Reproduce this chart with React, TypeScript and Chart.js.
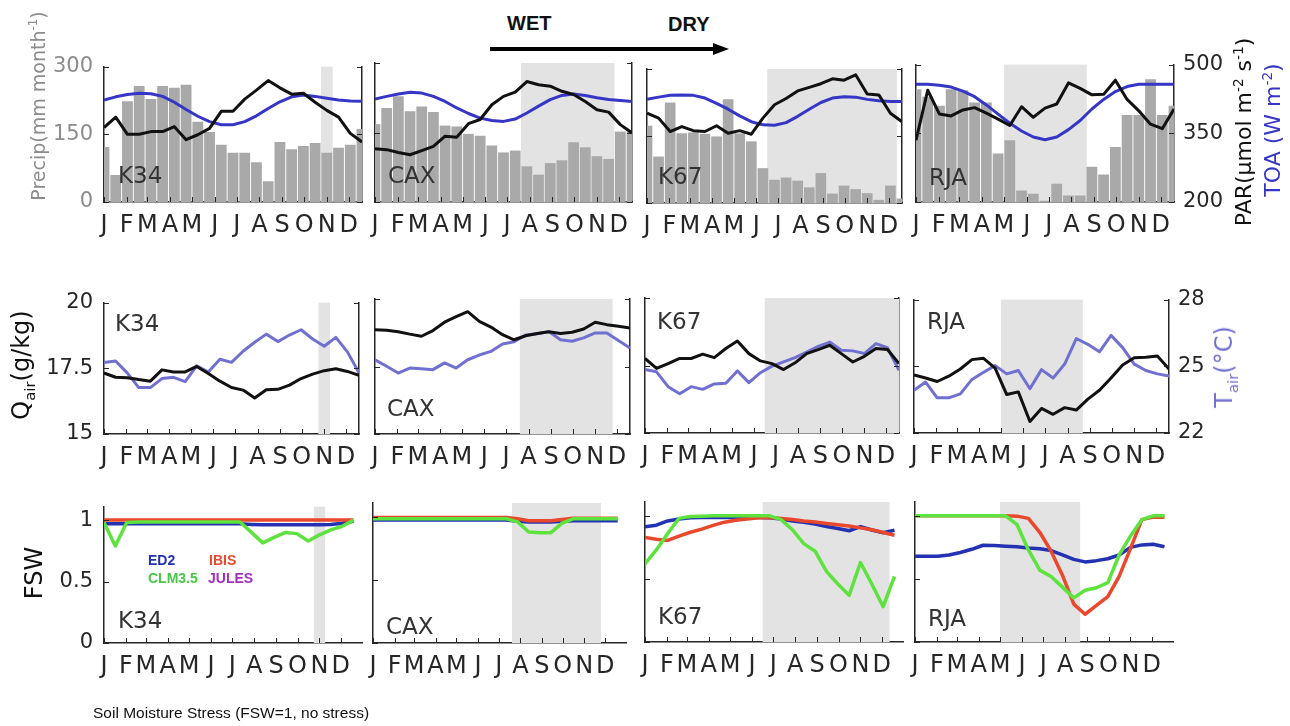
import React, { useEffect, useRef } from 'react';
import { Chart, registerables } from 'chart.js';

Chart.register(...registerables);

// ---------- categories ----------
const DOY = [1, 17, 33, 49, 65, 81, 97, 113, 129, 145, 161, 177, 193, 209, 225, 241, 257, 273, 289, 305, 321, 337, 353];
const MONTH_DOY = [1, 32, 60, 91, 121, 152, 182, 213, 244, 274, 305, 335];
const MONTH_LABELS = ['J', 'F', 'M', 'A', 'M', 'J', 'J', 'A', 'S', 'O', 'N', 'D'];
const SITES = ['K34', 'CAX', 'K67', 'RJA'];

// ---------- dry season (day of year) ----------
const DRY_START = [297, 201, 167, 121];
const DRY_END = [313, 329, 346, 234];
const DRY_END_ROW2 = [313, 329, 353, 234];

// ---------- row 1: precipitation (mm/month), PAR, TOA ----------
const PRECIP_K34 = [122, 60, 223, 257, 228, 257, 253, 260, 178, 155, 127, 109, 109, 88, 46, 133, 117, 124, 131, 109, 120, 127, 162];
const PRECIP_CAX = [168, 203, 228, 196, 206, 194, 165, 163, 147, 143, 122, 107, 111, 77, 59, 84, 90, 129, 118, 99, 93, 152, 152];
const PRECIP_K67 = [173, 104, 225, 156, 158, 155, 149, 232, 156, 138, 78, 52, 57, 50, 35, 67, 21, 39, 31, 22, 7, 39, 10];
const PRECIP_RJA = [246, 230, 210, 246, 244, 217, 217, 106, 135, 25, 18, 3, 40, 14, 14, 77, 60, 120, 190, 190, 268, 190, 210];

const PAR_K34 = [365, 388, 350, 350, 356, 356, 367, 338, 349, 363, 401, 401, 428, 448, 469, 453, 439, 441, 421, 403, 388, 352, 333];
const PAR_CAX = [315, 313, 307, 302, 311, 320, 342, 340, 369, 378, 410, 428, 437, 460, 453, 450, 439, 432, 417, 399, 394, 367, 349];
const PAR_K67 = [401, 390, 360, 371, 362, 360, 373, 356, 362, 354, 390, 420, 434, 451, 459, 467, 478, 475, 487, 444, 442, 401, 382];
const PAR_RJA = [335, 444, 392, 388, 401, 406, 394, 381, 367, 408, 385, 405, 414, 460, 448, 434, 435, 466, 424, 399, 370, 360, 403];

const TOA_K34 = [426, 433, 438, 441, 440, 434, 421, 405, 390, 378, 371, 371, 378, 391, 407, 422, 433, 437, 434, 430, 426, 424, 423];
const TOA_CAX = [422, 428, 433, 437, 435, 428, 417, 403, 391, 381, 376, 374, 379, 392, 407, 421, 430, 433, 430, 425, 421, 419, 417];
const TOA_K67 = [432, 437, 441, 442, 441, 435, 423, 410, 395, 382, 375, 374, 380, 394, 410, 425, 435, 438, 437, 432, 429, 427, 427];
const TOA_RJA = [457, 457, 455, 451, 442, 430, 412, 392, 372, 355, 342, 336, 342, 358, 378, 403, 424, 441, 452, 457, 457, 457, 457];

// ---------- row 2: Qair (g/kg), Tair (C) ----------
const QAIR_K34 = [17.32, 17.16, 17.14, 17.07, 17.01, 17.44, 17.36, 17.36, 17.57, 17.3, 17.01, 16.77, 16.67, 16.37, 16.68, 16.7, 16.86, 17.11, 17.28, 17.41, 17.48, 17.38, 17.23];
const QAIR_CAX = [18.86, 18.84, 18.79, 18.7, 18.62, 18.83, 19.14, 19.35, 19.53, 19.17, 18.96, 18.68, 18.49, 18.64, 18.72, 18.79, 18.72, 18.77, 18.89, 19.14, 19.05, 18.99, 18.93];
const QAIR_K67 = [17.76, 17.39, 17.57, 17.76, 17.76, 17.92, 17.79, 18.13, 18.41, 17.94, 17.67, 17.57, 17.35, 17.6, 17.94, 18.09, 18.25, 17.94, 17.63, 17.84, 18.13, 18.09, 17.57];
const QAIR_RJA = [17.18, 17.06, 16.93, 17.13, 17.4, 17.75, 17.8, 17.43, 16.44, 16.54, 15.43, 15.92, 15.7, 15.95, 15.86, 16.27, 16.6, 17.06, 17.55, 17.82, 17.84, 17.89, 17.4];

const TAIR_K34 = [25.27, 25.33, 24.79, 24.12, 24.12, 24.53, 24.59, 24.39, 25.11, 24.83, 25.41, 25.27, 25.78, 26.19, 26.56, 26.22, 26.52, 26.76, 26.34, 26.01, 26.41, 25.75, 24.79];
const TAIR_CAX = [25.3, 25.01, 24.71, 24.93, 24.9, 24.86, 25.16, 24.93, 25.3, 25.51, 25.67, 26.0, 26.1, 26.4, 26.46, 26.55, 26.19, 26.12, 26.27, 26.49, 26.49, 26.16, 25.82];
const TAIR_K67 = [24.82, 24.72, 24.06, 23.74, 24.06, 23.94, 24.18, 24.21, 24.76, 24.24, 24.68, 24.97, 25.16, 25.35, 25.6, 25.85, 26.04, 25.68, 25.65, 25.53, 25.97, 25.79, 24.79];
const TAIR_RJA = [23.92, 24.29, 23.58, 23.58, 23.76, 24.41, 24.73, 25.03, 24.66, 24.81, 23.99, 24.85, 24.47, 25.1, 26.25, 25.99, 25.65, 26.39, 25.84, 25.1, 24.81, 24.66, 24.56];

// ---------- row 3: soil moisture stress factor ----------
const ED2_K34 = [0.97, 0.97, 0.97, 0.97, 0.97, 0.97, 0.97, 0.97, 0.97, 0.97, 0.97, 0.97, 0.97, 0.965, 0.962, 0.962, 0.962, 0.962, 0.962, 0.962, 0.965, 0.975, 0.99];
const IBIS_K34 = [1.0, 1.0, 1.0, 1.0, 1.0, 1.0, 1.0, 1.0, 1.0, 1.0, 1.0, 1.0, 1.0, 1.0, 1.0, 1.0, 1.0, 1.0, 1.0, 1.0, 1.0, 1.0, 1.0];
const CLM_K34 = [0.98, 0.79, 0.98, 0.985, 0.985, 0.985, 0.985, 0.985, 0.985, 0.985, 0.985, 0.985, 0.985, 0.9, 0.815, 0.86, 0.9, 0.89, 0.83, 0.88, 0.92, 0.95, 1.0];

const ED2_CAX = [0.975, 0.975, 0.975, 0.975, 0.975, 0.975, 0.975, 0.975, 0.975, 0.975, 0.975, 0.975, 0.975, 0.965, 0.96, 0.96, 0.96, 0.965, 0.97, 0.97, 0.97, 0.97, 0.97];
const IBIS_CAX = [0.995, 0.995, 0.995, 0.995, 0.995, 0.995, 0.995, 0.995, 0.995, 0.995, 0.995, 0.995, 0.995, 0.985, 0.97, 0.97, 0.97, 0.98, 0.99, 0.99, 0.99, 0.99, 0.99];
const CLM_CAX = [0.985, 0.985, 0.985, 0.985, 0.985, 0.985, 0.985, 0.985, 0.985, 0.985, 0.985, 0.985, 0.985, 0.96, 0.88, 0.875, 0.875, 0.95, 0.985, 0.985, 0.985, 0.985, 0.985];

const ED2_K67 = [0.913, 0.926, 0.96, 0.975, 0.985, 0.987, 0.987, 0.987, 0.987, 0.987, 0.987, 0.985, 0.975, 0.96, 0.95, 0.935, 0.915, 0.9, 0.882, 0.915, 0.888, 0.866, 0.886];
const IBIS_K67 = [0.828, 0.815, 0.805, 0.84, 0.87, 0.895, 0.925, 0.95, 0.965, 0.975, 0.985, 0.987, 0.98, 0.972, 0.96, 0.952, 0.94, 0.93, 0.92, 0.905, 0.89, 0.868, 0.847];
const CLM_K67 = [0.62, 0.73, 0.86, 0.98, 0.995, 0.997, 1.0, 1.0, 1.0, 1.0, 1.0, 1.0, 0.97, 0.89, 0.78, 0.72, 0.56, 0.46, 0.37, 0.63, 0.46, 0.28, 0.52];

const ED2_RJA = [0.68, 0.68, 0.68, 0.69, 0.71, 0.735, 0.767, 0.765, 0.76, 0.755, 0.745, 0.74, 0.725, 0.69, 0.655, 0.635, 0.645, 0.66, 0.69, 0.75, 0.77, 0.775, 0.755];
const IBIS_RJA = [1.0, 1.0, 1.0, 1.0, 1.0, 1.0, 1.0, 1.0, 1.0, 0.998, 0.98, 0.87, 0.72, 0.53, 0.3, 0.22, 0.29, 0.36, 0.52, 0.74, 0.97, 0.99, 0.99];
const CLM_RJA = [1.0, 1.0, 1.0, 1.0, 1.0, 1.0, 1.0, 1.0, 1.0, 0.93, 0.73, 0.57, 0.52, 0.435, 0.35, 0.41, 0.43, 0.47, 0.69, 0.84, 0.97, 1.0, 1.0];

// ---------- tick values / labels ----------
const PRECIP_TICKS = [0, 150, 300];
const PRECIP_TICK_LABELS = ['0', '150', '300'];
const PAR_TICKS = [200, 350, 500];
const PAR_TICK_LABELS = ['200', '350', '500'];
const QAIR_TICKS = [15, 17.5, 20];
const QAIR_TICK_LABELS = ['15', '17.5', '20'];
const TAIR_TICKS = [22, 25, 28];
const TAIR_TICK_LABELS = ['22', '25', '28'];
const FSW_TICKS = [0, 0.5, 1];
const FSW_TICK_LABELS = ['0', '0.5', '1'];

const PRECIP = [PRECIP_K34, PRECIP_CAX, PRECIP_K67, PRECIP_RJA];
const PAR = [PAR_K34, PAR_CAX, PAR_K67, PAR_RJA];
const TOA = [TOA_K34, TOA_CAX, TOA_K67, TOA_RJA];
const QAIR = [QAIR_K34, QAIR_CAX, QAIR_K67, QAIR_RJA];
const TAIR = [TAIR_K34, TAIR_CAX, TAIR_K67, TAIR_RJA];
const ED2 = [ED2_K34, ED2_CAX, ED2_K67, ED2_RJA];
const IBIS = [IBIS_K34, IBIS_CAX, IBIS_K67, IBIS_RJA];
const CLM = [CLM_K34, CLM_CAX, CLM_K67, CLM_RJA];

// ---------- layout & style ----------
const PADL = 100, PADR = 110, PADT = 20, PADB = 50;
const ROW1_GEOM = [[104, 63, 258, 139], [375, 63, 257, 139], [647, 69, 255, 134], [916, 63, 258, 139]];
const ROW2_GEOM = [[104, 299, 255, 135], [375, 299, 255, 135], [645, 298, 254, 135], [914, 298, 255, 135]];
const ROW3_GEOM = [[104, 503, 258, 140], [373, 503, 253, 140], [645, 502, 258, 140], [915, 502, 258, 140]];

const FONT = "'DejaVu Sans', 'Noto Sans', sans-serif";
const SANS = "'Liberation Sans', Arial, sans-serif";
const AXIS_COLOR = '#262626';
const TEXT_COLOR = '#262626';
const BAR_COLOR = '#a9a9a9';
const SHADE_COLOR = '#e3e3e3';
const PAR_COLOR = '#111111';
const TOA_COLOR = '#3636c6';
const QAIR_COLOR = '#111111';
const TAIR_COLOR = '#7070d0';
const ED2_COLOR = '#2232b2';
const IBIS_COLOR = '#e9482c';
const CLM_COLOR = '#5ee23e';
const JULES_COLOR = '#a22fbf';
const PRECIP_TEXT = '#8c8c8c';

const pts = (vals: number[]) => DOY.map((d, i) => ({ x: d, y: vals[i] }));

const panelDecor = {
  id: 'panelDecor',
  beforeDatasetsDraw(chart: any, _args: any, opts: any) {
    const { ctx, chartArea: a, scales } = chart;
    if (opts && opts.shade) {
      const x0 = scales.x.getPixelForValue(opts.shade[0]);
      const x1 = scales.x.getPixelForValue(Math.min(opts.shade[1], scales.x.max));
      ctx.save();
      ctx.fillStyle = SHADE_COLOR;
      ctx.fillRect(x0, a.top, x1 - x0, a.bottom - a.top);
      ctx.restore();
    }
  },
  afterDraw(chart: any, _args: any, opts: any) {
    const { ctx, chartArea: a, scales } = chart;
    const L = 5;
    ctx.save();
    ctx.strokeStyle = AXIS_COLOR;
    ctx.lineWidth = 1;
    ctx.beginPath();
    for (const t of scales.x.ticks) {
      const p = Math.round(scales.x.getPixelForValue(t.value)) + 0.5;
      ctx.moveTo(p, a.bottom);
      ctx.lineTo(p, a.bottom - L);
    }
    for (const t of scales.y.ticks) {
      const p = Math.round(scales.y.getPixelForValue(t.value)) + 0.5;
      ctx.moveTo(a.left, p);
      ctx.lineTo(a.left + L, p);
    }
    if (opts && opts.rightTicks) {
      for (const t of scales.y2.ticks) {
        const p = Math.round(scales.y2.getPixelForValue(t.value)) + 0.5;
        ctx.moveTo(a.right, p);
        ctx.lineTo(a.right - L, p);
      }
    }
    ctx.stroke();
    ctx.restore();
  },
};

function yAxis(side: 'left' | 'right', min: number, max: number, ticks: number[], labels: string[], show: boolean, color: string, border: boolean) {
  return {
    type: 'linear',
    position: side,
    min,
    max,
    afterBuildTicks: (s: any) => { s.ticks = ticks.map((v) => ({ value: v })); },
    afterFit: (s: any) => { s.width = side === 'left' ? PADL : PADR; },
    grid: { display: false, drawTicks: false },
    border: { display: border, color: AXIS_COLOR, width: 1.5 },
    ticks: {
      display: show,
      color,
      padding: side === 'left' ? 11 : 9,
      font: { family: FONT, size: 21 },
      callback: (_v: any, i: number) => labels[i],
    },
  };
}

function baseOptions(xMax: number, y: any, y2: any, shade: number[], rightTicks: boolean) {
  return {
    responsive: false,
    animation: false,
    events: [],
    layout: { padding: { top: PADT, left: 0, right: 0, bottom: 0 } },
    plugins: {
      legend: { display: false },
      tooltip: { enabled: false },
      panelDecor: { shade, rightTicks },
    },
    scales: {
      x: {
        type: 'linear',
        min: 1,
        max: xMax,
        offset: false,
        afterBuildTicks: (s: any) => { s.ticks = MONTH_DOY.map((v) => ({ value: v })); },
        afterFit: (s: any) => { s.height = PADB; },
        grid: { display: false, drawTicks: false },
        border: { display: true, color: AXIS_COLOR, width: 1.5 },
        ticks: {
          autoSkip: false,
          maxRotation: 0,
          minRotation: 0,
          padding: 9,
          color: TEXT_COLOR,
          font: { family: FONT, size: 24 },
          callback: (_v: any, i: number) => MONTH_LABELS[i],
        },
      },
      y,
      y2,
    },
  };
}

const lineDs = (label: string, vals: number[], color: string, axis: string, order: number, width: number) => ({
  type: 'line',
  label,
  data: pts(vals),
  borderColor: color,
  backgroundColor: color,
  borderWidth: width,
  pointRadius: 0,
  tension: 0,
  fill: false,
  borderJoinStyle: 'round',
  yAxisID: axis,
  order,
});

function row1Config(c: number) {
  return () => ({
    type: 'line',
    data: {
      datasets: [
        lineDs('PAR', PAR[c], PAR_COLOR, 'y2', 0, 3),
        lineDs('TOA', TOA[c], TOA_COLOR, 'y2', 1, 3),
        {
          type: 'bar',
          label: 'Precip',
          data: pts(PRECIP[c]),
          backgroundColor: BAR_COLOR,
          barPercentage: 0.92,
          categoryPercentage: 1,
          yAxisID: 'y',
          order: 2,
        },
      ],
    },
    options: baseOptions(
      353,
      yAxis('left', 0, 300, PRECIP_TICKS, PRECIP_TICK_LABELS, c === 0, PRECIP_TEXT, true),
      yAxis('right', 200, 500, PAR_TICKS, PAR_TICK_LABELS, c === 3, TEXT_COLOR, true),
      [DRY_START[c], DRY_END[c]],
      true,
    ),
    plugins: [panelDecor],
  });
}

function row2Config(c: number) {
  return () => ({
    type: 'line',
    data: {
      datasets: [
        lineDs('Qair', QAIR[c], QAIR_COLOR, 'y', 0, 3),
        lineDs('Tair', TAIR[c], TAIR_COLOR, 'y2', 1, 3),
      ],
    },
    options: baseOptions(
      353,
      yAxis('left', 15, 20, QAIR_TICKS, QAIR_TICK_LABELS, c === 0, TEXT_COLOR, true),
      yAxis('right', 22, 28, TAIR_TICKS, TAIR_TICK_LABELS, c === 3, TEXT_COLOR, true),
      [DRY_START[c], DRY_END_ROW2[c]],
      true,
    ),
    plugins: [panelDecor],
  });
}

function row3Config(c: number) {
  return () => ({
    type: 'line',
    data: {
      datasets: [
        lineDs('CLM3.5', CLM[c], CLM_COLOR, 'y', 0, 3.5),
        lineDs('IBIS', IBIS[c], IBIS_COLOR, 'y', 1, 3.5),
        lineDs('ED2', ED2[c], ED2_COLOR, 'y', 2, 3.5),
      ],
    },
    options: baseOptions(
      365,
      yAxis('left', 0, 1.11, FSW_TICKS, FSW_TICK_LABELS, c === 0, TEXT_COLOR, true),
      yAxis('right', 0, 1.11, FSW_TICKS, FSW_TICK_LABELS, false, TEXT_COLOR, false),
      [DRY_START[c], DRY_END[c]],
      false,
    ),
    plugins: [panelDecor],
  });
}

function ChartPanel({ geom, make }: { geom: number[]; make: () => any }) {
  const ref = useRef<HTMLCanvasElement | null>(null);
  useEffect(() => {
    if (!ref.current) return;
    const chart = new Chart(ref.current, make() as any);
    return () => chart.destroy();
  }, []);
  const [l, t, w, h] = geom;
  const W = w + PADL + PADR;
  const H = h + PADT + PADB;
  return (
    <canvas
      ref={ref}
      width={W}
      height={H}
      style={{ position: 'absolute', left: l - PADL, top: t - PADT, width: W, height: H }}
    />
  );
}

const supStyle: React.CSSProperties = { fontSize: '0.62em', verticalAlign: 'super', lineHeight: 0 };
const subStyle: React.CSSProperties = { fontSize: '0.62em', verticalAlign: 'sub', lineHeight: 0 };

function Txt(props: { x: number; y: number; size: number; color?: string; bold?: boolean; family?: string; children: React.ReactNode }) {
  return (
    <div
      style={{
        position: 'absolute',
        left: props.x,
        top: props.y,
        fontSize: props.size,
        color: props.color || TEXT_COLOR,
        fontWeight: props.bold ? 'bold' : 'normal',
        fontFamily: props.family || FONT,
        lineHeight: 1,
        whiteSpace: 'nowrap',
      }}
    >
      {props.children}
    </div>
  );
}

function VTxt(props: { cx: number; cy: number; size: number; color?: string; children: React.ReactNode }) {
  return (
    <div
      style={{
        position: 'absolute',
        left: props.cx,
        top: props.cy,
        transform: 'translate(-50%, -50%) rotate(-90deg)',
        fontSize: props.size,
        color: props.color || TEXT_COLOR,
        fontFamily: FONT,
        lineHeight: 1,
        whiteSpace: 'nowrap',
      }}
    >
      {props.children}
    </div>
  );
}

const ROW1_LABEL_POS = [[118, 164], [388, 164], [658, 165], [929, 166]];
const ROW2_LABEL_POS = [[115, 312], [387, 397], [657, 310], [927, 310]];
const ROW3_LABEL_POS = [[118, 609], [386, 615], [658, 605], [928, 607]];

export default function App() {
  return (
    <div
      style={{
        position: 'absolute',
        left: 0,
        top: 0,
        width: 1290,
        height: 726,
        background: '#ffffff',
        overflow: 'hidden',
        fontFamily: FONT,
      }}
    >
      {SITES.map((s, c) => (
        <ChartPanel key={'r1' + s} geom={ROW1_GEOM[c]} make={row1Config(c)} />
      ))}
      {SITES.map((s, c) => (
        <ChartPanel key={'r2' + s} geom={ROW2_GEOM[c]} make={row2Config(c)} />
      ))}
      {SITES.map((s, c) => (
        <ChartPanel key={'r3' + s} geom={ROW3_GEOM[c]} make={row3Config(c)} />
      ))}

      {SITES.map((s, c) => (
        <Txt key={'l1' + s} x={ROW1_LABEL_POS[c][0]} y={ROW1_LABEL_POS[c][1]} size={23} color="#333">{s}</Txt>
      ))}
      {SITES.map((s, c) => (
        <Txt key={'l2' + s} x={ROW2_LABEL_POS[c][0]} y={ROW2_LABEL_POS[c][1]} size={23} color="#333">{s}</Txt>
      ))}
      {SITES.map((s, c) => (
        <Txt key={'l3' + s} x={ROW3_LABEL_POS[c][0]} y={ROW3_LABEL_POS[c][1]} size={23} color="#333">{s}</Txt>
      ))}

      {/* axis titles */}
      <VTxt cx={38} cy={106} size={19} color={PRECIP_TEXT}>
        Precip(mm month<span style={supStyle}>-1</span>)
      </VTxt>
      <VTxt cx={1244} cy={132} size={22} color="#111">
        PAR(μmol m<span style={supStyle}>-2</span> s<span style={supStyle}>-1</span>)
      </VTxt>
      <VTxt cx={1273} cy={130} size={22} color={TOA_COLOR}>
        TOA (W m<span style={supStyle}>-2</span>)
      </VTxt>
      <VTxt cx={21} cy={365} size={24} color="#111">
        Q<span style={subStyle}>air</span>(g/kg)
      </VTxt>
      <VTxt cx={1224} cy={367} size={24} color={TAIR_COLOR}>
        T<span style={subStyle}>air</span>(°C)
      </VTxt>
      <VTxt cx={34} cy={573} size={24} color="#111">FSW</VTxt>

      {/* legend of soil moisture panels */}
      <Txt x={148} y={553} size={14} bold family={SANS} color={ED2_COLOR}>ED2</Txt>
      <Txt x={209} y={553} size={14} bold family={SANS} color={IBIS_COLOR}>IBIS</Txt>
      <Txt x={148} y={571} size={14} bold family={SANS} color="#46c846">CLM3.5</Txt>
      <Txt x={208} y={571} size={14} bold family={SANS} color={JULES_COLOR}>JULES</Txt>

      {/* wet to dry arrow */}
      <Txt x={507} y={13} size={20} bold family={SANS} color="#111">WET</Txt>
      <Txt x={668} y={14} size={20} bold family={SANS} color="#111">DRY</Txt>
      <svg style={{ position: 'absolute', left: 480, top: 38 }} width={260} height={24}>
        <line x1={10} y1={11} x2={236} y2={11} stroke="#000" strokeWidth={4} />
        <polygon points="233,5 249,11 233,17" fill="#000" />
      </svg>

      <Txt x={93} y={705} size={15.5} family={SANS} color="#111">Soil Moisture Stress (FSW=1, no stress)</Txt>
    </div>
  );
}
